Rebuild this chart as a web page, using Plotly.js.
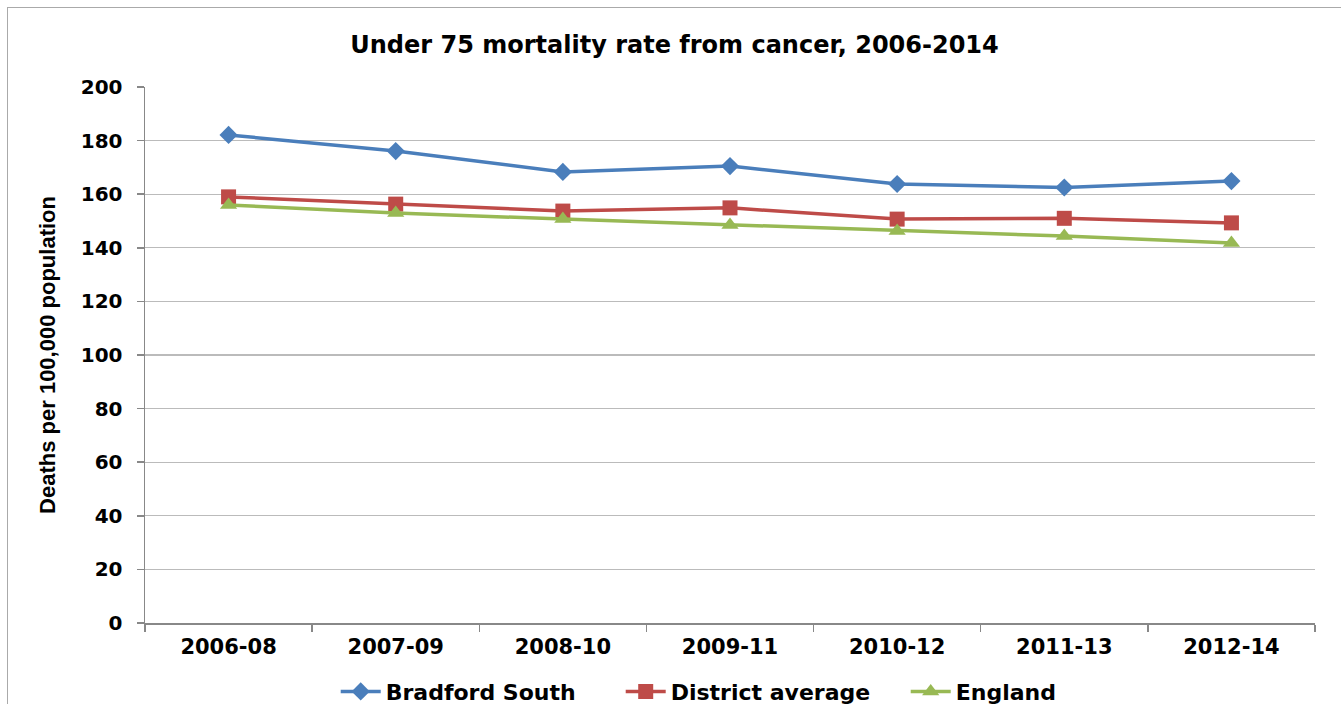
<!DOCTYPE html>
<html><head><meta charset="utf-8">
<script src="https://cdn.plot.ly/plotly-3.0.1.min.js"></script>
<style>
html,body{margin:0;padding:0;background:#fff;overflow:hidden;}
#frame{position:absolute;left:7px;top:7px;width:2000px;height:2000px;border-left:1.5px solid #aaa;border-top:1.5px solid #aaa;pointer-events:none;z-index:5;}
#chart{width:1341px;height:704px;}
</style></head>
<body>
<div id="frame"></div>
<div id="chart"></div>
<script>
const periods = ["2006-08","2007-09","2008-10","2009-11","2010-12","2011-13","2012-14"];
const bradfordSouth = [182.1, 176.1, 168.3, 170.5, 163.8, 162.5, 164.9];
const districtAverage = [159.0, 156.3, 153.7, 154.9, 150.7, 151.0, 149.3];
const england = [156.0, 153.0, 150.7, 148.5, 146.3, 144.4, 141.8];

const seriesNames = ["Bradford South", "District average", "England"];
const seriesColors = ["#4A7EBB", "#BE4B48", "#98B954"];
const seriesSymbols = ["diamond", "square", "triangle-up"];
const seriesValues = [bradfordSouth, districtAverage, england];

const FONT = "DejaVu Sans, Liberation Sans, Arial, sans-serif";

const traces = seriesValues.map((vals, i) => ({
  type: "scatter",
  mode: "lines+markers",
  x: periods,
  y: vals,
  name: seriesNames[i],
  line: {color: seriesColors[i], width: 3.5},
  marker: {symbol: seriesSymbols[i], size: i === 0 ? 14 : 15, color: seriesColors[i]}
}));

const layout = {
  width: 1341, height: 704,
  margin: {l: 145, r: 26, t: 87, b: 81, autoexpand: false},
  paper_bgcolor: "#fff", plot_bgcolor: "#fff",
  font: {family: FONT, color: "#000"},
  title: {text: "<b>Under 75 mortality rate from cancer, 2006-2014</b>", font: {size: 24, family: FONT}, x: 0.503, xanchor: "center", yref: "container", y: 0.936, yanchor: "middle"},
  xaxis: {
    type: "category", range: [-0.5, 6.5],
    showline: true, linecolor: "#888", linewidth: 1.5,
    ticks: "outside", ticklen: 7, tickcolor: "#888", tickwidth: 1.5,
    tickson: "boundaries", ticklabelstandoff: 4,
    showgrid: false, zeroline: false,
    tickfont: {size: 21, family: FONT, weight: "bold"}
  },
  yaxis: {
    range: [0, 200], dtick: 20,
    showline: true, linecolor: "#888", linewidth: 1.5,
    ticks: "outside", ticklen: 7, tickcolor: "#888", tickwidth: 1.5,
    ticklabelstandoff: 10,
    gridcolor: "#bbb", gridwidth: 1.2, zeroline: false,
    tickfont: {size: 20, family: FONT, weight: "bold"},
    title: {text: "<b>Deaths per 100,000 population</b>", font: {size: 22, family: "Liberation Sans Narrow, Arial Narrow, Liberation Sans, Arial, sans-serif"}, standoff: 19}
  },
  showlegend: true,
  legend: {orientation: "h", x: 0.163, xanchor: "left", y: -0.128, yanchor: "middle",
    entrywidth: 230, entrywidthmode: "pixels",
    font: {size: 22, family: FONT, weight: "bold"}, itemwidth: 40, traceorder: "normal"}
};

Plotly.newPlot("chart", traces, layout, {displayModeBar: false, staticPlot: true});
</script>
</body></html>
